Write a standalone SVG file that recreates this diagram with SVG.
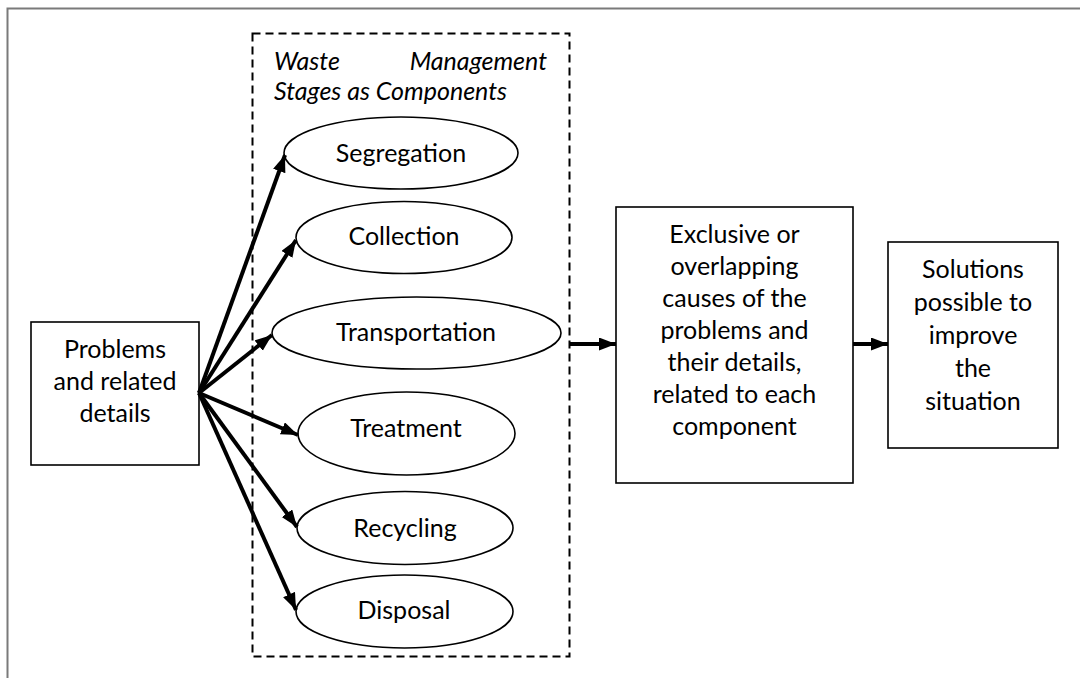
<svg xmlns="http://www.w3.org/2000/svg" width="1080" height="678" viewBox="0 0 1080 678">
<style>
.t{font-family:Lato,"Open Sans","Liberation Sans",sans-serif;font-size:25px;fill:#000;text-anchor:middle}
.i{font-family:Lato,"Open Sans","Liberation Sans",sans-serif;font-size:25px;font-style:italic;fill:#000}
.s{fill:#fff;stroke:#000;stroke-width:1.6}
.c{stroke:#000;stroke-width:4;fill:none}
</style>
<defs>
<marker id="ah" markerUnits="userSpaceOnUse" markerWidth="18" markerHeight="14" refX="17" refY="6.5" orient="auto">
<path d="M0,0 L17,6.5 L0,13 Z" fill="#000"/>
</marker>
</defs>
<rect width="1080" height="678" fill="#fff"/>
<path d="M7.5,678 V8.5 H1080" fill="none" stroke="#7a7a7a" stroke-width="2"/>
<g id="stages">
<rect x="252.5" y="33.5" width="317" height="623" fill="none" stroke="#000" stroke-width="2" stroke-dasharray="8,5"/>
<text class="i" x="274" y="70">Waste</text>
<text class="i" x="547" y="70" text-anchor="end">Management</text>
<text class="i" x="274" y="100">Stages as Components</text>
</g>
<g id="problems">
<rect class="s" x="31" y="322" width="168" height="143"/>
<text class="t" x="115" y="358">Problems</text>
<text class="t" x="115" y="390">and related</text>
<text class="t" x="115" y="422">details</text>
</g>
<g id="segregation"><ellipse class="s" cx="401" cy="153" rx="117" ry="36"/><text class="t" x="401" y="162">Segregation</text></g>
<g id="collection"><ellipse class="s" cx="404" cy="237.5" rx="108" ry="36"/><text class="t" x="404" y="245">Collection</text></g>
<g id="transportation"><ellipse class="s" cx="416.5" cy="333" rx="144.5" ry="36"/><text class="t" x="416" y="341">Transportation</text></g>
<g id="treatment"><ellipse class="s" cx="406.5" cy="433.5" rx="108.5" ry="41.5"/><text class="t" x="406" y="437">Treatment</text></g>
<g id="recycling"><ellipse class="s" cx="405" cy="528" rx="108" ry="36.5"/><text class="t" x="405" y="537">Recycling</text></g>
<g id="disposal"><ellipse class="s" cx="404.5" cy="611.5" rx="108.5" ry="36.5"/><text class="t" x="404" y="619">Disposal</text></g>
<g id="causes">
<rect class="s" x="616" y="207" width="237" height="276"/>
<text class="t" x="734.5" y="243">Exclusive or</text>
<text class="t" x="734.5" y="275">overlapping</text>
<text class="t" x="734.5" y="307">causes of the</text>
<text class="t" x="734.5" y="339">problems and</text>
<text class="t" x="734.5" y="371">their details,</text>
<text class="t" x="734.5" y="403">related to each</text>
<text class="t" x="734.5" y="435">component</text>
</g>
<g id="solutions">
<rect class="s" x="888" y="242" width="170" height="206"/>
<text class="t" x="973" y="278">Solutions</text>
<text class="t" x="973" y="311">possible to</text>
<text class="t" x="973" y="344">improve</text>
<text class="t" x="973" y="377">the</text>
<text class="t" x="973" y="410">situation</text>
</g>
<g id="connectors">
<line class="c" x1="199" y1="393" x2="285" y2="155" marker-end="url(#ah)"/>
<line class="c" x1="199" y1="393" x2="296" y2="240" marker-end="url(#ah)"/>
<line class="c" x1="199" y1="393" x2="272" y2="335" marker-end="url(#ah)"/>
<line class="c" x1="199" y1="393" x2="298" y2="435" marker-end="url(#ah)"/>
<line class="c" x1="199" y1="393" x2="297" y2="527" marker-end="url(#ah)"/>
<line class="c" x1="199" y1="393" x2="296" y2="610" marker-end="url(#ah)"/>
<line class="c" x1="569" y1="344" x2="616" y2="344" marker-end="url(#ah)"/>
<line class="c" x1="853" y1="344" x2="888" y2="344" marker-end="url(#ah)"/>
</g>
</svg>
